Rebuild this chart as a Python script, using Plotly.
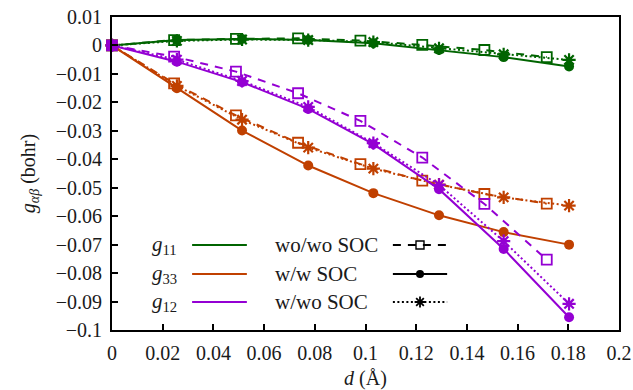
import plotly.graph_objects as go

# ---------------- data ----------------
# x positions (d in Angstrom)
d_sq = [0.0, 0.0245, 0.0489, 0.0734, 0.098, 0.1224, 0.1469, 0.1715]   # wo/wo SOC
d_ci = [0.0, 0.0256, 0.0513, 0.0774, 0.1031, 0.1290, 0.1545, 0.1803]   # w/w SOC and w/wo SOC

g11_wowo = [0.0, 0.0019, 0.0023, 0.0025, 0.0017, 0.0002, -0.0016, -0.0041]
g11_ww   = [0.0, 0.0019, 0.0023, 0.0019, 0.0008, -0.0016, -0.0041, -0.0074]
g11_wwo  = [0.0, 0.0016, 0.0021, 0.0019, 0.0012, -0.0010, -0.0031, -0.0051]

g33_wowo = [0.0, -0.0133, -0.0246, -0.0342, -0.0417, -0.0475, -0.0522, -0.0556]
g33_ww   = [0.0, -0.0150, -0.0299, -0.0422, -0.0519, -0.0597, -0.0656, -0.0700]
g33_wwo  = [0.0, -0.0142, -0.0261, -0.0359, -0.0433, -0.0489, -0.0534, -0.0563]

g12_wowo = [0.0, -0.0039, -0.0092, -0.0168, -0.0265, -0.0394, -0.0557, -0.0753]
g12_ww   = [0.0, -0.0057, -0.0129, -0.0223, -0.0347, -0.0505, -0.0715, -0.0955]
g12_wwo  = [0.0, -0.0050, -0.0125, -0.0216, -0.0343, -0.0490, -0.0688, -0.0908]

comp_labels = ["<i>g</i><sub>11</sub>", "<i>g</i><sub>33</sub>", "<i>g</i><sub>12</sub>"]
style_labels = ["wo/wo SOC", "w/w SOC", "w/wo SOC"]

# ---------------- styles ----------------
GREEN = "#006400"
ORANGE = "#C04000"
PURPLE = "#9400D3"
TXT = "#1a1a1a"
FONT = "Liberation Serif"
FS = 20
DASH = "8px,7px"
DOT = "2px,2.5px"

styles = {
    "wowo": dict(dash=DASH, symbol="square-open", size=10, mline=1.8),
    "ww": dict(dash="solid", symbol="circle", size=10, mline=0),
    "wwo": dict(dash=DOT, symbol="asterisk-open", size=11, mline=2.2),
}

fig = go.Figure()

def add(x, y, color, key):
    s = styles[key]
    fig.add_trace(go.Scatter(
        x=x, y=y, mode="lines+markers", showlegend=False,
        line=dict(color=color, width=2, dash=s["dash"]),
        marker=dict(symbol=s["symbol"], size=s["size"], color=color,
                    line=dict(color=color, width=s["mline"])),
        cliponaxis=False,
    ))

for color, (a, b, c) in [(GREEN, (g11_wowo, g11_ww, g11_wwo)),
                         (ORANGE, (g33_wowo, g33_ww, g33_wwo)),
                         (PURPLE, (g12_wowo, g12_ww, g12_wwo))]:
    add(d_sq, a, color, "wowo")
    add(d_ci, b, color, "ww")
    add(d_ci, c, color, "wwo")

# ---------------- custom legend (on an overlay 0..1 axis) ----------------
rows = [0.2716, 0.179, 0.0895]
colors = [GREEN, ORANGE, PURPLE]
for r, col, lab in zip(rows, colors, comp_labels):
    fig.add_trace(go.Scatter(x=[0.158, 0.266], y=[r, r], mode="lines", xaxis="x2", yaxis="y2",
                             line=dict(color=col, width=2), showlegend=False, hoverinfo="skip"))
    fig.add_annotation(x=0.132, y=r, xref="x2", yref="y2", text=lab, showarrow=False,
                       xanchor="right", yanchor="middle", font=dict(family=FONT, size=21, color=TXT))
for r, key, lab in zip(rows, ["wowo", "ww", "wwo"], style_labels):
    s = styles[key]
    fig.add_trace(go.Scatter(x=[0.554, 0.661], y=[r, r], mode="lines", xaxis="x2", yaxis="y2",
                             line=dict(color="black", width=2, dash=s["dash"]),
                             showlegend=False, hoverinfo="skip"))
    fig.add_trace(go.Scatter(x=[0.6075], y=[r], mode="markers", xaxis="x2", yaxis="y2",
                             marker=dict(symbol=s["symbol"], size=s["size"] - 2, color="black",
                                         line=dict(color="black", width=max(s["mline"] - 0.4, 0))),
                             showlegend=False, hoverinfo="skip"))
    fig.add_annotation(x=0.318, y=r, xref="x2", yref="y2", text=lab, showarrow=False,
                       xanchor="left", yanchor="middle", font=dict(family=FONT, size=21, color=TXT))

axis_common = dict(showgrid=False, zeroline=False, ticks="inside", ticklen=6, tickwidth=1.5,
                   tickcolor="black", showline=True, linecolor="black", linewidth=2, mirror=True,
                   automargin=False, tickfont=dict(family=FONT, size=FS, color=TXT))

fig.update_layout(
    width=633, height=390,
    margin=dict(l=112, r=14, t=17, b=60),
    paper_bgcolor="white", plot_bgcolor="white",
    xaxis=dict(range=[0, 0.2], dtick=0.02, tick0=0, ticklabelstandoff=4,
               title=dict(text="<i>d</i> (Å)", font=dict(family=FONT, size=FS, color=TXT), standoff=8),
               **axis_common),
    yaxis=dict(range=[-0.1, 0.01], dtick=0.01, tick0=0, ticklabelstandoff=4,
               title=dict(text="<i>g</i><sub><i>αβ</i></sub> (bohr)", font=dict(family=FONT, size=FS, color=TXT), standoff=15),
               **axis_common),
    xaxis2=dict(overlaying="x", range=[0, 1], visible=False, fixedrange=True),
    yaxis2=dict(overlaying="y", range=[0, 1], visible=False, fixedrange=True),
)

fig.write_html("out.html")
